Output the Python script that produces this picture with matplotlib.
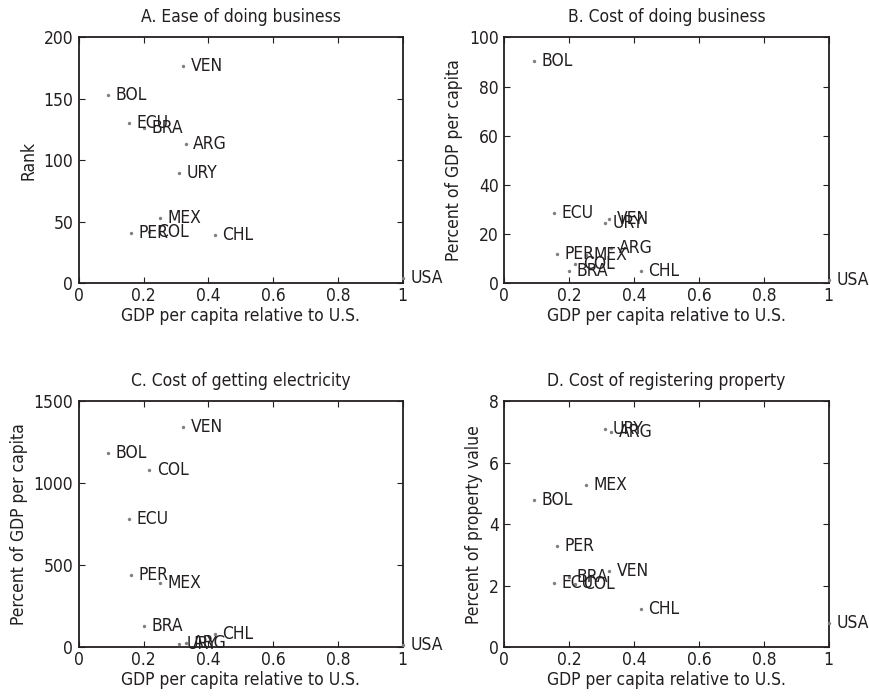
import matplotlib
matplotlib.use('Agg')
import matplotlib.pyplot as plt

countries = ['ARG', 'BOL', 'BRA', 'CHL', 'COL', 'ECU', 'MEX', 'PER', 'URY', 'VEN', 'USA']
gdp_rel = [0.33, 0.091, 0.20, 0.42, 0.218, 0.154, 0.252, 0.161, 0.311, 0.322, 1.0]
ease_rank = [113, 153, 126, 39, 42, 130, 53, 41, 90, 177, 4]
cost_business = [14.2, 90.5, 5.2, 5.1, 8.0, 28.5, 11.5, 12.0, 24.6, 26.0, 1.4]
cost_electricity = [28, 1183, 130, 82, 1081, 784, 394, 439, 18, 1341, 14]
cost_property = [7.0, 4.78, 2.3, 1.26, 2.07, 2.09, 5.29, 3.28, 7.09, 2.47, 0.79]

titles = ['A. Ease of doing business', 'B. Cost of doing business',
          'C. Cost of getting electricity', 'D. Cost of registering property']
ylabels = ['Rank', 'Percent of GDP per capita', 'Percent of GDP per capita',
           'Percent of property value']
xlabel = 'GDP per capita relative to U.S.'
ylims = [(0, 200), (0, 100), (0, 1500), (0, 8)]
yticks = [[0, 50, 100, 150, 200], [0, 20, 40, 60, 80, 100],
          [0, 500, 1000, 1500], [0, 2, 4, 6, 8]]
xticks = [0, 0.2, 0.4, 0.6, 0.8, 1]
xticklabels = ['0', '0.2', '0.4', '0.6', '0.8', '1']
series = [ease_rank, cost_business, cost_electricity, cost_property]

plt.rcParams['font.family'] = ['DejaVu Sans']
plt.rcParams['font.stretch'] = 'condensed'
txt = '#231f20'
fs = 12.5

fig = plt.figure(figsize=(8.69, 6.96), dpi=100)
W, H = 869, 696
boxes = [(78.7, 37.3, 402.7, 283.3), (504.3, 37.3, 828.7, 283.3),
         (78.7, 401.3, 402.7, 647.3), (504.3, 401.3, 828.7, 647.3)]

for i in range(4):
    l, t, r, b = boxes[i]
    ax = fig.add_axes([l / W, 1 - b / H, (r - l) / W, (b - t) / H])
    ys = series[i]
    ax.scatter(gdp_rel, ys, s=6, color='#808080', zorder=3, clip_on=False, linewidths=0)
    for c, x, y in zip(countries, gdp_rel, ys):
        ax.annotate(c, (x, y), xytext=(5.5, 0), textcoords='offset points',
                    ha='left', va='center', fontsize=fs, color=txt,
                    annotation_clip=False)
    ax.set_xlim(0, 1)
    ax.set_ylim(*ylims[i])
    ax.set_xticks(xticks)
    ax.set_xticklabels(xticklabels)
    ax.set_yticks(yticks[i])
    ax.tick_params(direction='in', top=True, right=True, length=4, width=0.8,
                   labelsize=fs, colors=txt, pad=4)
    ax.tick_params(axis='x', pad=3)
    for s in ax.spines.values():
        s.set_linewidth(1.3)
        s.set_color(txt)
    ax.set_title(titles[i], fontsize=fs, color=txt, pad=11)
    ax.set_xlabel(xlabel, fontsize=fs, color=txt, labelpad=1)
    ax.set_ylabel(ylabels[i], fontsize=fs, color=txt, labelpad=4)

fig.savefig('out.png', dpi=100)
